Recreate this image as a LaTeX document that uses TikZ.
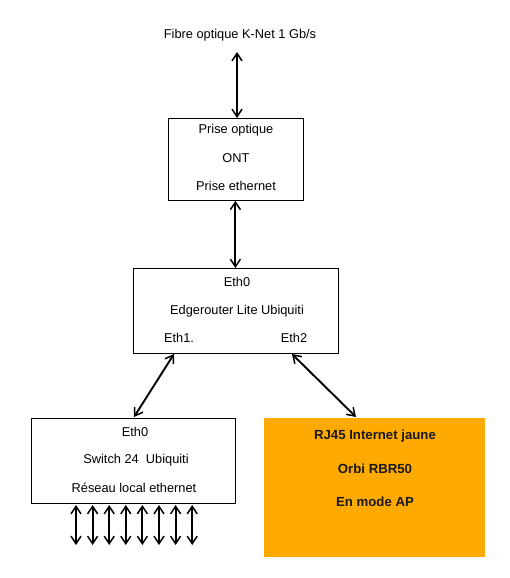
\documentclass[tikz,border=0pt]{standalone}
\usepackage{fontspec}
\setmainfont{Liberation Sans}
\usetikzlibrary{arrows.meta}
\begin{document}
\begin{tikzpicture}[x=1pt,y=-1pt,
  box/.style={draw,line width=0.8pt,inner sep=0pt,anchor=north west},
  lbl/.style={font=\fontsize{12.8}{14}\selectfont,inner sep=0pt},
  olbl/.style={font=\fontsize{13.2}{15}\selectfont,inner sep=0pt,text=black!90},
  dbl/.style={line width=1.9pt,{Straight Barb[length=7.5pt,width=10pt,line width=1.5pt]}-{Straight Barb[length=7.5pt,width=10pt,line width=1.5pt]}}]
\useasboundingbox (0,0) rectangle (510,578);
% title
\node[lbl] (fibre) at (240,35) {Fibre optique K-Net 1 Gb/s};
% ONT box
\node[box,minimum width=135pt,minimum height=82pt] (ont) at (168,118) {};
\node[lbl] (ont1) at (236,130) {Prise optique};
\node[lbl] (ont2) at (236,158) {ONT};
\node[lbl] (ont3) at (236,186) {Prise ethernet};
% router
\node[box,minimum width=205pt,minimum height=85pt] (er) at (133,268) {};
\node[lbl] (er0) at (237,282) {Eth0};
\node[lbl] (er1) at (237,311) {Edgerouter Lite Ubiquiti};
\node[lbl] (eth1) at (179,338) {Eth1.};
\node[lbl] (eth2) at (294,338) {Eth2};
% switch
\node[box,minimum width=204pt,minimum height=85pt] (sw) at (31,418) {};
\node[lbl] (sw0) at (135,432) {Eth0};
\node[lbl] (sw1) at (136,460) {Switch 24\ \ Ubiquiti};
\node[lbl] (sw2) at (134,488) {Réseau local ethernet};
% orbi
\node[box,draw=none,fill={rgb,255:red,255;green,170;blue,0},minimum width=221pt,minimum height=139pt] (orbi) at (264,418) {};
\node[olbl] (o1) at (375,436) {\textbf{RJ45 Internet jaune}};
\node[olbl] (o2) at (375,469) {\textbf{Orbi RBR50}};
\node[olbl] (o3) at (375,502) {\textbf{En mode AP}};
% connectors
\coordinate (fa) at (237,52);
\draw[dbl] (fa) -- (ont.north -| fa);
\draw[dbl] ([xshift=-0.5pt]ont.south) -- ([xshift=-0.5pt]ont.south |- er.north);
\coordinate (e1) at (174,354);
\coordinate (s0) at (134,417);
\draw[dbl] (e1) -- (s0);
\coordinate (e2) at (292,354);
\coordinate (o0) at (356,417);
\draw[dbl] (e2) -- (o0);
\foreach \i in {0,...,7}{
  \coordinate (p\i) at ({76+16.6*\i},505);
  \draw[dbl] (p\i) -- ++(0,40);
}
\end{tikzpicture}
\end{document}
